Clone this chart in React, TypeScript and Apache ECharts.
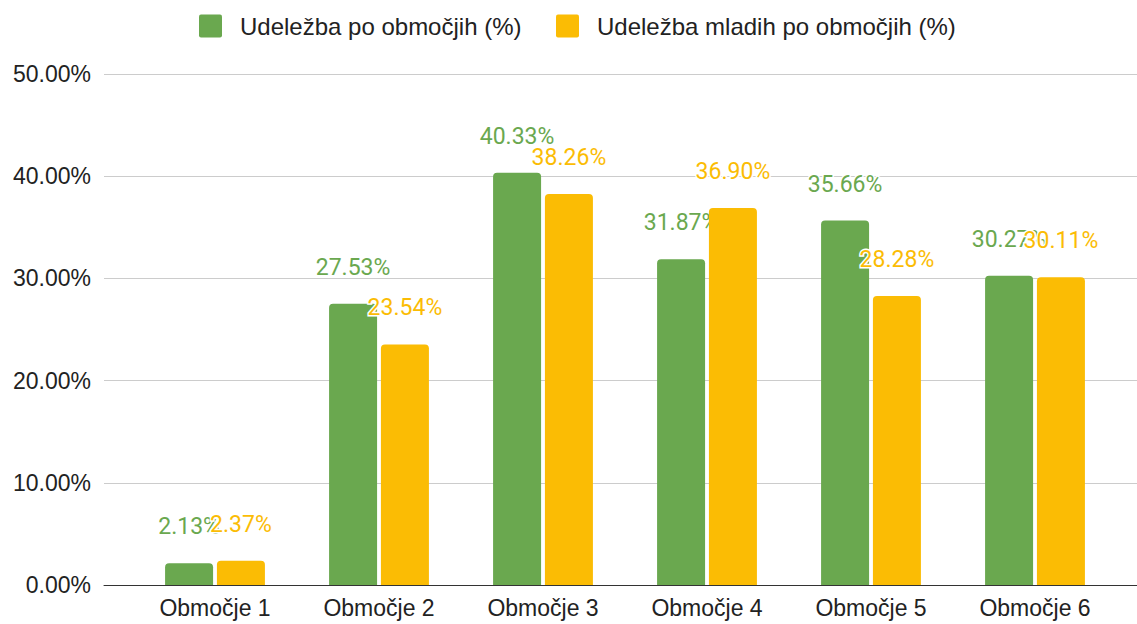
import React, { useEffect, useRef } from "react";
import * as echarts from "echarts";

const categories = ["Območje 1", "Območje 2", "Območje 3", "Območje 4", "Območje 5", "Območje 6"];
const seriesNames = ["Udeležba po območjih (%)", "Udeležba mladih po območjih (%)"];
const udelezba = [2.13, 27.53, 40.33, 31.87, 35.66, 30.27];
const udelezbaMladih = [2.37, 23.54, 38.26, 36.9, 28.28, 30.11];
const yMin = 0;
const yMax = 50;
const yInterval = 10;

const GREEN = "#6aa84f";
const YELLOW = "#fbbc04";
const LEGEND_ICON = "path://M2,0H21Q23,0,23,2V21Q23,23,21,23H2Q0,23,0,21V2Q0,0,2,0Z";

export default function App() {
  const ref = useRef<HTMLDivElement>(null);
  useEffect(() => {
    if (!ref.current) return;
    const chart = echarts.init(ref.current, null, { renderer: "svg" });
    const axisFont = { fontFamily: "Arial, 'Liberation Sans', sans-serif", fontSize: 23, color: "#222" };
    const legendFont = { ...axisFont, fontSize: 24, padding: [0, 0, 0, 13] };
    const mkLabel = (color: string) => ({
      show: true,
      position: "top",
      distance: 25,
      color,
      fontFamily: "Roboto, sans-serif",
      fontSize: 23,
      textBorderColor: "#fff",
      textBorderWidth: 3,
      formatter: (p: any) => `${Number(p.value).toFixed(2)}%`,
    });
    chart.setOption({
      animation: false,
      backgroundColor: "#fff",
      legend: [
        {
          data: [seriesNames[0]],
          left: 199,
          top: 14,
          padding: 0,
          itemWidth: 23,
          itemHeight: 23,
          icon: LEGEND_ICON,
          textStyle: legendFont,
        },
        {
          data: [seriesNames[1]],
          left: 556,
          top: 14,
          padding: 0,
          itemWidth: 23,
          itemHeight: 23,
          icon: LEGEND_ICON,
          textStyle: legendFont,
        },
      ],
      grid: [
        { left: 104, right: 0, top: 74, bottom: 39 },
        { left: 133, right: 20, top: 74, bottom: 39 },
      ],
      xAxis: [
        {
          gridIndex: 0,
          type: "category",
          data: categories,
          axisLine: { show: true, lineStyle: { color: "#333", width: 1 } },
          axisTick: { show: false },
          axisLabel: { show: false },
          splitLine: { show: false },
          z: 5,
        },
        {
          gridIndex: 1,
          type: "category",
          data: categories,
          axisLine: { show: false },
          axisTick: { show: false },
          axisLabel: { ...axisFont, margin: 11 },
        },
      ],
      yAxis: [
        {
          gridIndex: 0,
          type: "value",
          min: yMin,
          max: yMax,
          interval: yInterval,
          axisLine: { show: false },
          axisTick: { show: false },
          axisLabel: { ...axisFont, margin: 13, formatter: (v: number) => `${v.toFixed(2)}%` },
          splitLine: { show: true, lineStyle: { color: "#cccccc", width: 1 } },
        },
        {
          gridIndex: 1,
          type: "value",
          min: yMin,
          max: yMax,
          interval: yInterval,
          show: false,
          splitLine: { show: false },
        },
      ],
      series: [
        {
          name: seriesNames[0],
          type: "bar",
          xAxisIndex: 1,
          yAxisIndex: 1,
          data: udelezba,
          barWidth: 48,
          barGap: "8%",
          itemStyle: { color: GREEN, borderRadius: [4, 4, 0, 0] },
          label: mkLabel(GREEN),
          z: 2,
        },
        {
          name: seriesNames[1],
          type: "bar",
          xAxisIndex: 1,
          yAxisIndex: 1,
          data: udelezbaMladih,
          barWidth: 48,
          barGap: "8%",
          itemStyle: { color: YELLOW, borderRadius: [4, 4, 0, 0] },
          label: mkLabel(YELLOW),
          z: 3,
        },
      ],
    });
    return () => chart.dispose();
  }, []);
  return (
    <div
      ref={ref}
      style={{ position: "fixed", left: 0, top: 0, width: 1137, height: 624, background: "#fff" }}
    />
  );
}
